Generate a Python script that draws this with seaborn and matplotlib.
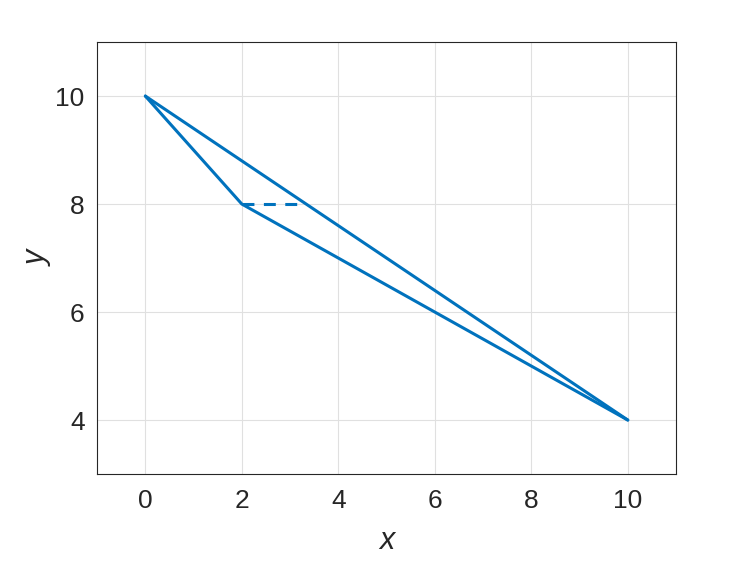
import matplotlib
matplotlib.use("Agg")
import matplotlib.pyplot as plt
import seaborn as sns
import pandas as pd

# data
line1_x = [0, 10]
line1_y = [10, 4]
line2_x = [0, 2, 10]
line2_y = [10, 8, 4]
dash_x = [2, 3.333]
dash_y = [8, 8]
xticks = [0, 2, 4, 6, 8, 10]
yticks = [4, 6, 8, 10]

sns.set_theme(style="white")
plt.rcParams['font.family'] = ['Liberation Sans', 'DejaVu Sans']

fig = plt.figure(figsize=(7.47, 5.61), dpi=100)
ax = fig.add_axes([0.13, 0.155, 0.775, 0.77])
color = "#0072BD"

sns.lineplot(x=line1_x, y=line1_y, ax=ax, color=color, lw=2.2, sort=False)
sns.lineplot(x=line2_x, y=line2_y, ax=ax, color=color, lw=2.2, sort=False)
sns.lineplot(x=dash_x, y=dash_y, ax=ax, color=color, lw=2.2, linestyle=(0, (3.9, 3.1)), sort=False)

ax.set_xlim(-1, 11)
ax.set_ylim(3, 11)
ax.set_xticks(xticks)
ax.set_yticks(yticks)
ax.tick_params(labelsize=19, direction="in", length=5, color="#262626", labelcolor="#262626")
ax.tick_params(axis="x", pad=11)
ax.tick_params(axis="y", pad=9)
ax.grid(True, color="#e0e0e0", lw=0.8)
for s in ax.spines.values():
    s.set_color("#262626")
    s.set_linewidth(0.8)
ax.set_xlabel("x", fontsize=22, style="italic", color="#262626", labelpad=9)
ax.set_ylabel("y", fontsize=22, style="italic", color="#262626", labelpad=2)
fig.savefig("out.png", dpi=100)
